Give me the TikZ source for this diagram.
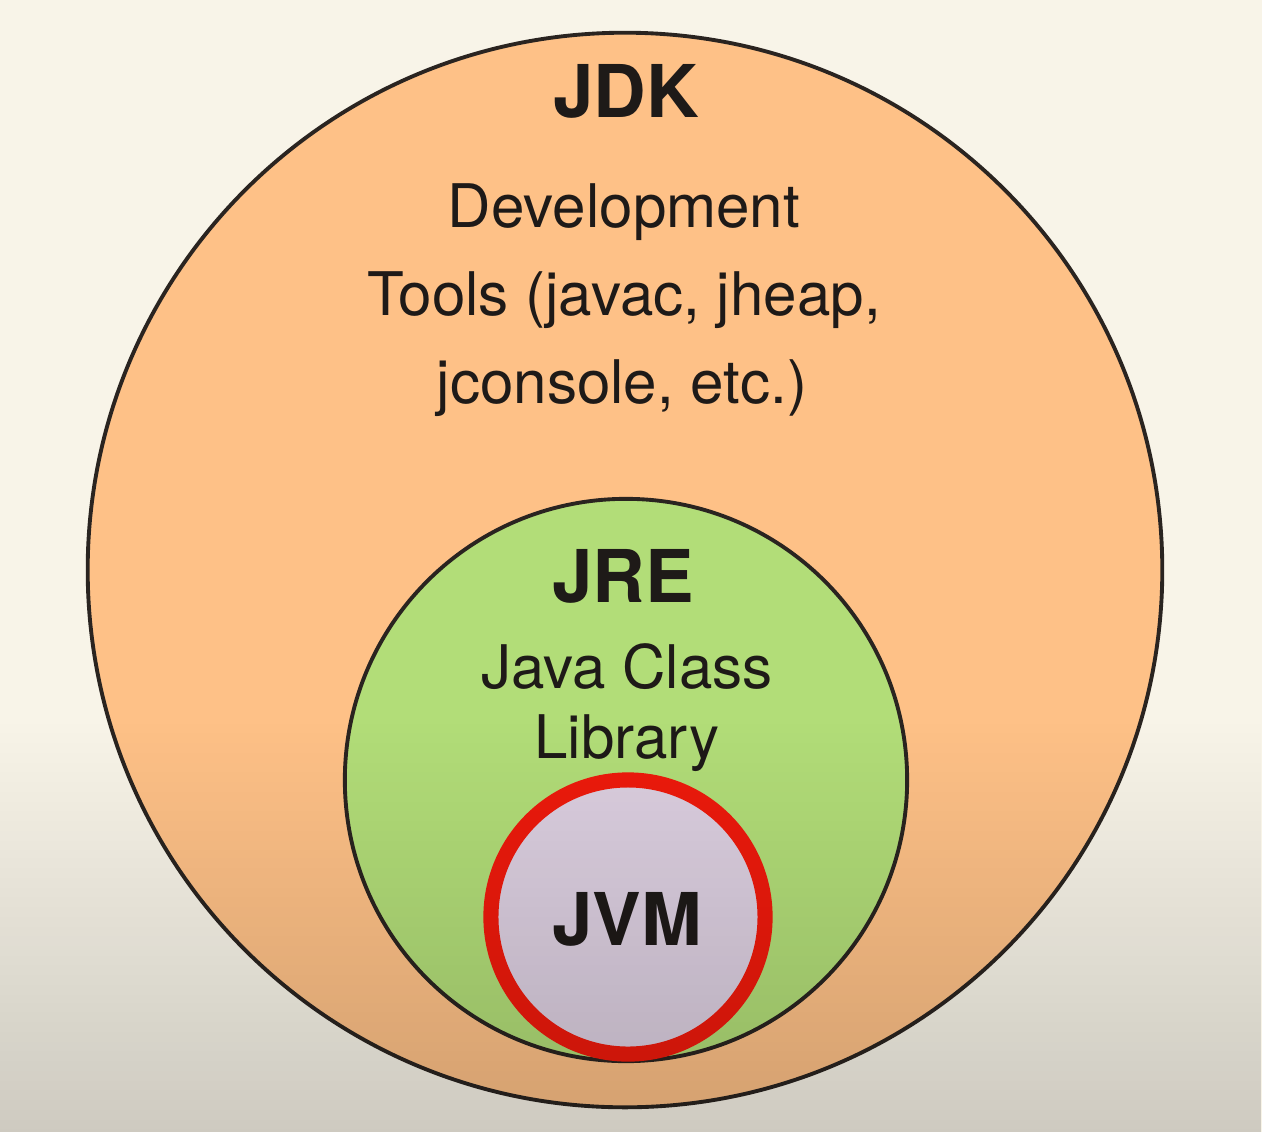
\documentclass[tikz,border=0pt]{standalone}
\usepackage{fontspec}
\setmainfont{TeX Gyre Heros}
\usetikzlibrary{fadings}
\definecolor{bgc}{HTML}{F8F4E8}
\definecolor{jdkc}{HTML}{FEC187}
\definecolor{jrec}{HTML}{B2DD78}
\definecolor{jvmc}{HTML}{DCCFE0}
\definecolor{jvmring}{HTML}{EE1A0C}
\definecolor{outl}{HTML}{2A2420}
\definecolor{txt}{HTML}{1E1A18}
\tikzfading[name=fadeup, top color=transparent!100, bottom color=transparent!0]
\tikzset{
  ring/.style={circle, inner sep=0pt, outer sep=0pt},
  title/.style={anchor=base, text=txt, inner sep=0pt, font=\fontsize{20.7}{24}\selectfont\bfseries},
  body/.style={anchor=base, text=txt, inner sep=0pt, font=\fontsize{17.1}{20}\selectfont}
}
\begin{document}
\begin{tikzpicture}[x=0.01cm,y=-0.01cm]
\useasboundingbox (0,0) rectangle (1262,1132);
\fill[bgc] (0,0) rectangle (1262,1132);
\node[ring, draw=outl, line width=1.1pt, fill=jdkc, minimum size=10.74cm] (jdk) at (625,570) {};
\node[ring, draw=outl, line width=1.1pt, fill=jrec, minimum size=5.62cm] (jre) at (626,780) {};
\node[ring, draw=jvmring, line width=4.3pt, fill=jvmc, minimum size=2.74cm] (jvm) at (628,917) {};
\node[title] (jdklbl) at (626,117) {JDK};
\node[body] (dev1) at (624,227) {Development};
\node[body] (dev2) at (624,315) {Tools (javac, jheap,};
\node[body] (dev3) at (622,403) {jconsole, etc.)};
\node[title] (jrelbl) at (623,602) {JRE};
\node[body] (lib1) at (627,688) {Java Class};
\node[body] (lib2) at (627,758) {Library};
\node[title] (jvmlbl) at (627,945) {JVM};
\fill[black, opacity=0.17, path fading=fadeup] (0,720) rectangle (1262,1132);
\end{tikzpicture}
\end{document}
